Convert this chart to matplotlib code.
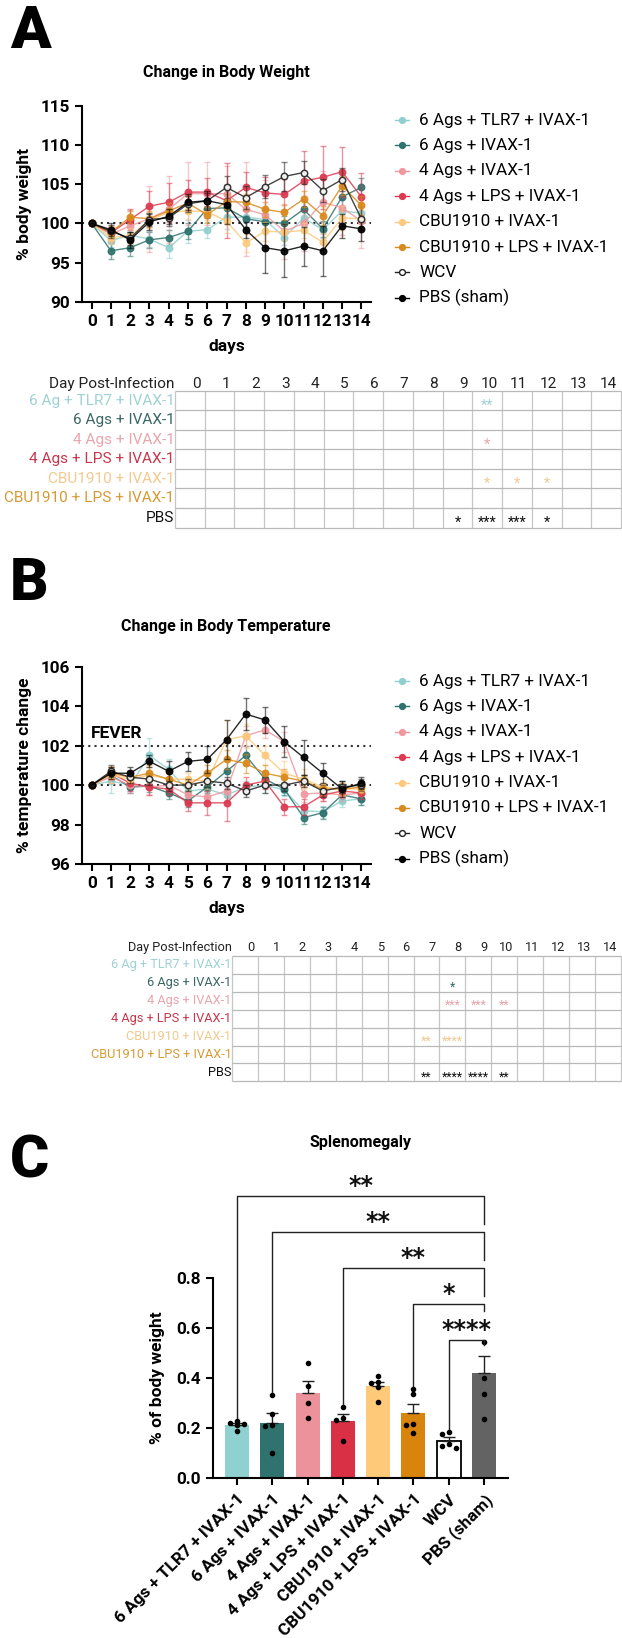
import numpy as np
import matplotlib
matplotlib.use("Agg")
import matplotlib.pyplot as plt
from matplotlib import font_manager as fm
from matplotlib.lines import Line2D

plt.rcParams['font.family'] = ['Roboto', 'DejaVu Sans']
plt.rcParams['axes.linewidth'] = 1.5
plt.rcParams['xtick.major.width'] = 1.5
plt.rcParams['ytick.major.width'] = 1.5
plt.rcParams['xtick.major.size'] = 5
plt.rcParams['ytick.major.size'] = 5

W, H = 622, 1638
def fx(p): return p / W
def fy(p): return 1 - p / H

names = {f.name for f in fm.fontManager.ttflist}
if 'Liberation Sans Narrow' in names:
    tab_font, tab_size_a, tab_size_b = ['Liberation Sans Narrow', 'DejaVu Sans'], 13, 10.8
else:
    tab_font, tab_size_a, tab_size_b = ['Roboto', 'DejaVu Sans'], 11.1, 9.2

# ---------------- data ----------------
days = list(range(15))
groups = ["6 Ags + TLR7 + IVAX-1", "6 Ags + IVAX-1", "4 Ags + IVAX-1", "4 Ags + LPS + IVAX-1",
          "CBU1910 + IVAX-1", "CBU1910 + LPS + IVAX-1", "WCV", "PBS (sham)"]
series_colors = ["#8fd0cf", "#2e716d", "#ef98a0", "#dc3a50", "#fdc97c", "#d98a1c", "#222222", "#000000"]
marker_faces = ["#8fd0cf", "#2e716d", "#ef98a0", "#dc3a50", "#fdc97c", "#d98a1c", "white", "#000000"]

# body weight (% of day 0)
bw_tlr7 = [100, 97.8, 98.5, 98.0, 96.9, 99.0, 99.2, 100.8, 100.8, 100.5, 98.2, 100.7, 99.2, 101.6, 101.3]
bw_six = [100, 96.5, 96.9, 97.9, 98.2, 99.0, 101.9, 102.0, 100.6, 100.2, 100.0, 101.8, 99.3, 103.4, 104.6]
bw_four = [100, 98.6, 99.7, 100.6, 101.8, 103.8, 103.8, 103.8, 101.8, 101.1, 99.0, 100.0, 102.7, 102.0, 100.3]
bw_four_lps = [100, 98.8, 100.5, 102.2, 102.7, 104.0, 104.0, 102.9, 104.6, 103.9, 103.7, 105.4, 105.9, 106.6, 103.4]
bw_cbu = [100, 98.2, 98.4, 100.4, 101.4, 101.6, 101.5, 100.3, 97.5, 99.0, 98.9, 99.1, 97.6, 100.7, 100.6]
bw_cbu_lps = [100, 98.9, 100.8, 100.6, 101.6, 102.6, 101.1, 102.8, 102.7, 101.8, 101.4, 103.1, 101.0, 104.8, 102.3]
bw_wcv = [100, 99.0, 98.1, 100.5, 100.7, 102.5, 102.9, 104.6, 103.3, 104.7, 106.0, 106.5, 104.2, 105.6, 100.6]
bw_pbs = [100, 99.2, 97.9, 100.2, 100.9, 102.7, 102.9, 102.4, 99.2, 96.9, 96.5, 97.1, 96.5, 99.7, 99.3]

bw_err_tlr7 = [0, 0.8, 1.0, 1.0, 1.3, 1.5, 1.0, 1.5, 1.2, 1.2, 1.0, 1.0, 1.0, 1.5, 1.2]
bw_err_six = [0, 1.0, 1.0, 1.0, 1.0, 1.0, 1.2, 1.2, 1.0, 1.0, 1.0, 1.2, 1.0, 1.2, 1.2]
bw_err_four = [0, 1.0, 2.0, 4.2, 4.3, 4.0, 4.0, 3.5, 6.0, 4.5, 3.5, 3.5, 4.0, 3.5, 3.5]
bw_err_four_lps = [0, 0.8, 1.3, 2.0, 2.5, 1.5, 1.8, 4.8, 2.0, 2.0, 2.0, 3.8, 4.0, 3.2, 3.0]
bw_err_cbu = [0, 0.8, 1.0, 1.0, 1.0, 1.0, 1.0, 1.5, 1.2, 1.2, 1.0, 1.0, 1.2, 1.5, 1.2]
bw_err_cbu_lps = [0, 0.8, 0.8, 1.0, 1.0, 1.0, 1.0, 1.0, 1.0, 1.0, 1.0, 1.0, 1.2, 1.2, 1.2]
bw_err_wcv = [0, 0.8, 0.8, 0.8, 1.0, 1.0, 1.0, 1.5, 1.5, 1.5, 1.8, 1.5, 1.5, 1.5, 1.5]
bw_err_pbs = [0, 0.8, 1.0, 1.0, 1.0, 1.0, 1.2, 2.5, 1.0, 3.2, 3.4, 2.5, 3.2, 1.5, 1.5]

# body temperature (% change)
t_tlr7 = [100, 100.2, 100.0, 101.5, 100.8, 99.7, 99.8, 99.5, 99.9, 100.0, 99.75, 98.7, 98.65, 99.2, 99.3]
t_six = [100, 100.5, 99.9, 99.95, 99.6, 99.2, 99.9, 100.7, 101.5, 100.3, 99.8, 98.35, 98.6, 99.5, 99.3]
t_four = [100, 100.4, 100.0, 99.9, 100.0, 99.5, 99.4, 99.7, 102.5, 102.8, 102.2, 99.55, 99.6, 99.5, 99.6]
t_four_lps = [100, 100.6, 100.1, 99.9, 99.8, 99.1, 99.1, 99.1, 100.0, 100.2, 98.9, 98.9, 99.5, 99.7, 99.6]
t_cbu = [100, 100.5, 100.3, 100.5, 100.3, 100.3, 100.2, 102.3, 102.5, 101.5, 100.6, 100.3, 99.9, 99.8, 99.8]
t_cbu_lps = [100, 100.6, 100.4, 100.6, 100.3, 100.0, 100.6, 101.3, 101.1, 100.6, 100.4, 100.2, 99.8, 99.8, 99.9]
t_wcv = [100, 100.7, 100.4, 100.3, 100.0, 100.0, 100.2, 100.1, 99.7, 100.0, 100.0, 100.2, 99.7, 99.9, 100.0]
t_pbs = [100, 100.6, 100.6, 101.2, 100.7, 101.2, 101.3, 102.3, 103.6, 103.3, 102.2, 101.4, 100.6, 99.8, 100.1]

t_err_tlr7 = [0, 0.6, 0.3, 0.9, 0.5, 0.4, 0.4, 0.4, 0.3, 0.4, 0.3, 0.3, 0.3, 0.3, 0.3]
t_err_six = [0, 0.3, 0.3, 0.3, 0.3, 0.3, 0.3, 0.5, 0.5, 0.4, 0.3, 0.3, 0.3, 0.3, 0.3]
t_err_four = [0, 0.3, 0.4, 0.4, 0.4, 0.4, 0.4, 0.6, 0.5, 0.4, 0.5, 0.4, 0.4, 0.3, 0.3]
t_err_four_lps = [0, 0.3, 0.4, 0.4, 0.3, 0.4, 0.6, 0.9, 0.4, 0.4, 0.4, 0.4, 0.3, 0.3, 0.3]
t_err_cbu = [0, 0.4, 0.3, 0.4, 0.3, 0.3, 0.4, 1.0, 0.6, 0.5, 0.6, 0.5, 0.4, 0.3, 0.3]
t_err_cbu_lps = [0, 0.3, 0.3, 0.4, 0.3, 0.3, 0.4, 0.5, 0.5, 0.4, 0.4, 0.3, 0.3, 0.3, 0.3]
t_err_wcv = [0, 0.3, 0.3, 0.3, 0.3, 0.3, 0.3, 0.3, 0.3, 0.4, 0.3, 0.3, 0.3, 0.3, 0.3]
t_err_pbs = [0, 0.3, 0.3, 0.3, 0.5, 0.5, 0.7, 1.0, 0.8, 0.65, 0.8, 0.9, 0.5, 0.4, 0.3]

bw_means = [bw_tlr7, bw_six, bw_four, bw_four_lps, bw_cbu, bw_cbu_lps, bw_wcv, bw_pbs]
bw_errs = [bw_err_tlr7, bw_err_six, bw_err_four, bw_err_four_lps, bw_err_cbu, bw_err_cbu_lps, bw_err_wcv, bw_err_pbs]
t_means = [t_tlr7, t_six, t_four, t_four_lps, t_cbu, t_cbu_lps, t_wcv, t_pbs]
t_errs = [t_err_tlr7, t_err_six, t_err_four, t_err_four_lps, t_err_cbu, t_err_cbu_lps, t_err_wcv, t_err_pbs]

# significance tables
tab_rows = ["6 Ag + TLR7 + IVAX-1", "6 Ags + IVAX-1", "4 Ags + IVAX-1", "4 Ags + LPS + IVAX-1",
            "CBU1910 + IVAX-1", "CBU1910 + LPS + IVAX-1", "PBS"]
tab_colors = ["#9fd2d2", "#3b6666", "#e9a4ac", "#c7364c", "#f3c98f", "#d69a35", "#111111"]
stars_a = [(0, 10, '**'), (2, 10, '*'), (4, 10, '*'), (4, 11, '*'), (4, 12, '*'),
           (6, 9, '*'), (6, 10, '***'), (6, 11, '***'), (6, 12, '*')]
stars_b = [(1, 8, '*'), (2, 8, '***'), (2, 9, '***'), (2, 10, '**'), (4, 7, '**'), (4, 8, '****'),
           (6, 7, '**'), (6, 8, '****'), (6, 9, '****'), (6, 10, '**')]

# splenomegaly
bar_means = [0.211, 0.22, 0.34, 0.225, 0.367, 0.258, 0.147, 0.42]
bar_sem = [0.008, 0.037, 0.048, 0.028, 0.017, 0.037, 0.015, 0.066]
bar_points = [[0.22, 0.228, 0.213, 0.185, 0.21],
              [0.33, 0.255, 0.21, 0.205, 0.10],
              [0.457, 0.367, 0.30, 0.237],
              [0.284, 0.24, 0.23, 0.145],
              [0.407, 0.384, 0.38, 0.362, 0.304],
              [0.356, 0.335, 0.214, 0.211, 0.18],
              [0.176, 0.183, 0.135, 0.12, 0.125],
              [0.544, 0.40, 0.335, 0.233]]
bar_colors = ["#8fd1d0", "#2f726e", "#ec929b", "#da3046", "#ffc97a", "#d9840c", "white", "#636363"]
comparisons = [(0, '**'), (1, '**'), (3, '**'), (5, '*'), (6, '****')]  # each vs PBS (sham)

fig = plt.figure(figsize=(W / 100, H / 100), dpi=100)


def line_panel(top, bottom, means, errs, ylim, yticks, ylabel, title, title_y, letter, letter_y, leg_top):
    ax = fig.add_axes([fx(82), fy(bottom), 289 / W, (bottom - top) / H])
    for i in range(len(groups)):
        c = series_colors[i]
        ax.errorbar(days, means[i], yerr=errs[i], fmt='none', ecolor=c, elinewidth=1,
                    capsize=2, alpha=0.55, zorder=2 + i)
        ax.plot(days, means[i], '-', color=c, lw=1, alpha=0.85, zorder=3 + i)
        ax.plot(days, means[i], 'o', ms=4.6, mfc=marker_faces[i], mec=c, mew=1.1,
                alpha=0.9, zorder=4 + i)
    ax.set_xlim(-0.5, 14.5)
    ax.set_ylim(*ylim)
    ax.set_yticks(yticks)
    ax.set_xticks(days)
    for s in ['top', 'right']:
        ax.spines[s].set_visible(False)
    ax.tick_params(labelsize=12.3)
    for lab in ax.get_xticklabels() + ax.get_yticklabels():
        lab.set_fontweight('bold')
    ax.set_ylabel(ylabel, fontsize=12.5, fontweight='bold')
    ax.yaxis.set_label_coords(-50 / 289, 0.5)
    ax.set_xlabel('days', fontsize=12.5, fontweight='bold')
    ax.xaxis.set_label_coords(0.5, -45 / (bottom - top))
    ax.xaxis.label.set_va('center')
    fig.text(fx(226), fy(title_y), title, ha='center', va='center', fontsize=11.5, fontweight='bold')
    fig.text(fx(10), fy(letter_y), letter, ha='left', va='center', fontsize=43, fontweight='black')
    # legend
    for i, g in enumerate(groups):
        y = leg_top + i * 25.4
        fig.add_artist(Line2D([fx(395), fx(402), fx(409)], [fy(y)] * 3, color=series_colors[i],
                              lw=1, marker='o', markevery=[1], ms=4.2,
                              mfc=marker_faces[i], mec=series_colors[i], mew=1))
        fig.text(fx(419), fy(y), g, ha='left', va='center', fontsize=12.3)
    return ax


def sig_table(left, top, right, row_h, header_y, size, stars):
    nrow = len(tab_rows)
    bottom = top + nrow * row_h
    tax = fig.add_axes([fx(left), fy(bottom), (right - left) / W, (bottom - top) / H])
    tax.set_xlim(0, 15)
    tax.set_ylim(nrow, 0)
    tax.axis('off')
    tax.vlines(range(16), 0, nrow, color='#c6c6c6', lw=0.9, clip_on=False)
    tax.hlines(range(nrow + 1), 0, 15, color='#b8b8b8', lw=0.9, clip_on=False)
    hy = -(top - header_y) / row_h
    tax.text(-0.02, hy, 'Day Post-Infection', ha='right', va='center', fontsize=size,
             family=tab_font, color='#222222')
    for d in days:
        tax.text(d + 0.85, hy, str(d), ha='right', va='center', fontsize=size,
                 family=tab_font, color='#222222')
    for r, lab in enumerate(tab_rows):
        tax.text(-0.02, r + 0.5, lab, ha='right', va='center', fontsize=size,
                 family=tab_font, color=tab_colors[r])
    for r, d, s in stars:
        tax.text(d + 0.5, r + 0.75, s, ha='center', va='center', fontsize=size * 0.95,
                 family=tab_font, color=tab_colors[r])


# ---- panel A ----
axA = line_panel(106, 301.7, bw_means, bw_errs, (90, 115), range(90, 116, 5),
                 '% body weight', 'Change in Body Weight', 73, 'A', 32, 120)
axA.axhline(100, color='#333333', ls=(0, (1, 2)), lw=1.5, zorder=1)
sig_table(175, 391, 621, 19.5, 384, tab_size_a, stars_a)

# ---- panel B ----
axB = line_panel(666.7, 864, t_means, t_errs, (96, 106), range(96, 107, 2),
                 '% temperature change', 'Change in Body Temperature', 627, 'B', 584, 681)
axB.axhline(100, color='#333333', ls=(0, (1, 2)), lw=1.5, zorder=1)
axB.axhline(102, color='#333333', ls=(0, (1, 2)), lw=1.5, zorder=1)
axB.text(-0.05, 102.4, 'FEVER', ha='left', va='baseline', fontsize=12.5, fontweight='bold')
sig_table(232, 956, 621, 17.9, 947, tab_size_b, stars_b)

# ---- panel C ----
axC = fig.add_axes([fx(213), fy(1477.7), 295 / W, 312.5 / H])
xpos = np.arange(len(groups))
axC.bar(xpos, bar_means, width=0.68, color=bar_colors,
        edgecolor=['none'] * 6 + ['black', 'none'], linewidth=1.3, zorder=2)
axC.errorbar(xpos, bar_means, yerr=[np.zeros(len(xpos)), bar_sem], fmt='none', ecolor='#222222',
             elinewidth=1, capsize=4, capthick=1, zorder=3)
for i, pts in enumerate(bar_points):
    placed = []
    for v in sorted(pts, reverse=True):
        off = 0.0
        for cand in (0.0, -0.2, 0.2, -0.1, 0.1):
            if all(abs(v - pv) > 0.02 or abs(cand - po) > 0.15 for pv, po in placed):
                off = cand
                break
        placed.append((v, off))
    axC.plot([i + o for _, o in placed], [v for v, _ in placed], 'o', color='black', ms=3, zorder=4)

# significance brackets (layout)
br_top = [1.127, 0.983, 0.838, 0.695, 0.551]
br_right_end = [1.015, 0.871, 0.727, 0.668, 0.531]
for k, (g, s) in enumerate(comparisons):
    left_end = max(bar_points[g]) + 0.012
    axC.plot([g, g, 7, 7], [left_end, br_top[k], br_top[k], br_right_end[k]], color='#222222',
             lw=1, clip_on=False, zorder=5)
    axC.text((g + 7) / 2, br_top[k] + 0.012, s, ha='center', va='baseline', fontsize=17,
             fontweight='bold', color='#111111', family=['DejaVu Sans'])

axC.set_xlim(-0.68, 7.68)
axC.set_ylim(0, 1.25)
axC.set_yticks([0, 0.2, 0.4, 0.6, 0.8])
axC.set_yticklabels(['0.0', '0.2', '0.4', '0.6', '0.8'])
axC.spines['left'].set_bounds(0, 0.8)
for s in ['top', 'right']:
    axC.spines[s].set_visible(False)
axC.set_xticks(xpos)
axC.set_xticklabels(groups, rotation=45, ha='right', va='top', rotation_mode='anchor')
axC.tick_params(labelsize=12.3)
axC.tick_params(axis='x', labelsize=12.3, pad=5)
for lab in axC.get_xticklabels() + axC.get_yticklabels():
    lab.set_fontweight('bold')
axC.set_ylabel('% of body weight', fontsize=12.5, fontweight='bold')
axC.yaxis.set_label_coords(-48 / 295, 0.32)
fig.text(fx(360), fy(1142.7), 'Splenomegaly', ha='center', va='center', fontsize=11.5, fontweight='bold')
fig.text(fx(10), fy(1162), 'C', ha='left', va='center', fontsize=43, fontweight='black')

fig.savefig('out.png', dpi=100)
